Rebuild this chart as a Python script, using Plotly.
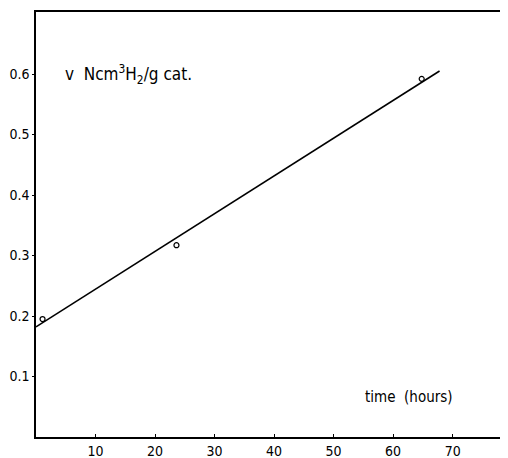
import plotly.graph_objects as go

time_h = [1.1, 23.6, 64.8]
volume = [0.195, 0.317, 0.592]
fit_x = [0, 67.8]
fit_y = [0.182, 0.605]
x_ticks = [10, 20, 30, 40, 50, 60, 70]
y_ticks = [0.1, 0.2, 0.3, 0.4, 0.5, 0.6]

FAM = "DejaVu Sans Condensed, DejaVu Sans, sans-serif"

fig = go.Figure()
fig.add_trace(go.Scatter(x=fit_x, y=fit_y, mode="lines",
                         line=dict(color="black", width=1.6), hoverinfo="skip"))
fig.add_trace(go.Scatter(x=time_h, y=volume, mode="markers",
                         marker=dict(symbol="circle-open", size=5, color="black",
                                     line=dict(width=1.2, color="black"))))

tickfont = dict(family=FAM, size=14, color="black")

fig.update_layout(
    template="none",
    width=500, height=450,
    margin=dict(l=28, r=0, t=4, b=21, autoexpand=False),
    paper_bgcolor="white", plot_bgcolor="white",
    showlegend=False,
    font=tickfont,
    xaxis=dict(range=[0, 79.3], tickvals=x_ticks, ticktext=[str(v) for v in x_ticks],
               showgrid=False, zeroline=False, showline=True, linecolor="black",
               linewidth=1.5, mirror=True, ticks="inside", ticklen=3,
               tickcolor="black", tickwidth=1, tickfont=tickfont, automargin=False),
    yaxis=dict(range=[0, 0.7025], tickvals=y_ticks,
               ticktext=[f"{v:.1f}" for v in y_ticks],
               showgrid=False, zeroline=False, showline=True, linecolor="black",
               linewidth=1.5, ticks="outside", ticklen=2, tickcolor="black",
               tickwidth=1, tickfont=tickfont, automargin=False),
    annotations=[
        dict(x=4.6, y=0.6, xref="x", yref="y", xanchor="left", yanchor="middle",
             text="v  Ncm<sup>3</sup>H<sub>2</sub>/g cat.", showarrow=False,
             font=dict(family=FAM, size=17, color="black")),
        dict(x=54.9, y=0.066, xref="x", yref="y", xanchor="left", yanchor="middle",
             text="time  (hours)", showarrow=False,
             font=dict(family=FAM, size=15, color="black")),
    ],
)

fig.write_html("out.html")
